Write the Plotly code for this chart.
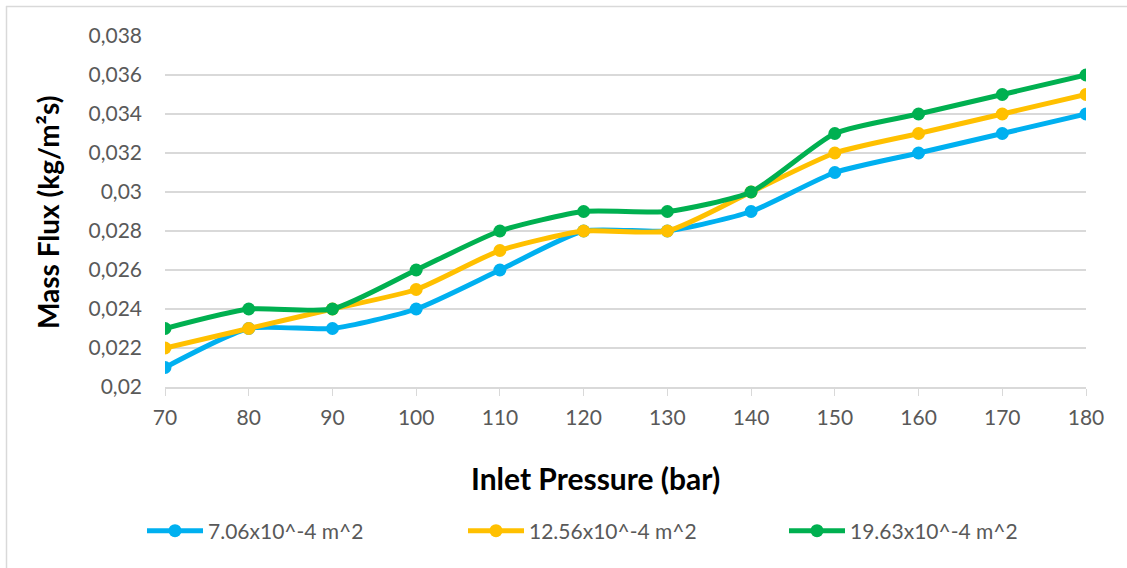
import plotly.graph_objects as go

pressure = [70, 80, 90, 100, 110, 120, 130, 140, 150, 160, 170, 180]
flux_706 = [0.021, 0.023, 0.023, 0.024, 0.026, 0.028, 0.028, 0.029, 0.031, 0.032, 0.033, 0.034]
flux_1256 = [0.022, 0.023, 0.024, 0.025, 0.027, 0.028, 0.028, 0.030, 0.032, 0.033, 0.034, 0.035]
flux_1963 = [0.023, 0.024, 0.024, 0.026, 0.028, 0.029, 0.029, 0.030, 0.033, 0.034, 0.035, 0.036]
series_names = ["7.06x10^-4 m^2", "12.56x10^-4 m^2", "19.63x10^-4 m^2"]
colors = ["#00B0F0", "#FFC000", "#00B050"]
y_ticks = [0.02, 0.022, 0.024, 0.026, 0.028, 0.03, 0.032, 0.034, 0.036, 0.038]
y_ticktext = ["0,02", "0,022", "0,024", "0,026", "0,028", "0,03", "0,032", "0,034", "0,036", "0,038"]

FONT = "Lato, 'Open Sans', sans-serif"
fig = go.Figure()
for name, ys, c in zip(series_names, [flux_706, flux_1256, flux_1963], colors):
    fig.add_trace(go.Scatter(
        x=pressure, y=ys, name=name, mode="lines+markers",
        line=dict(color=c, width=5, shape="spline", smoothing=0.6),
        marker=dict(color=c, size=13),
    ))

W, H = 1127, 568
L, R, T, B = 165, 1086, 36, 387
pw, ph = R - L, B - T
def px(x): return (x - L) / pw
def py(y): return (B - y) / ph

fig.update_layout(
    width=W, height=H,
    margin=dict(l=L, r=W - R, t=T, b=H - B),
    paper_bgcolor="white", plot_bgcolor="white",
    font=dict(family=FONT, color="#595959", size=21),
    showlegend=True,
    legend=dict(orientation="h", x=px(142), y=py(531), xanchor="left", yanchor="middle",
                font=dict(size=21, color="#595959"), itemwidth=56, entrywidth=250,
                entrywidthmode="pixels", tracegroupgap=0),
    xaxis=dict(range=[70, 180], tickvals=pressure, ticks="outside", ticklen=7, tickcolor="#D9D9D9",
               showline=True, linecolor="#D9D9D9", linewidth=1.5, showgrid=False, zeroline=False,
               ticklabelstandoff=4, tickfont=dict(size=21, color="#595959")),
    yaxis=dict(range=[0.02, 0.038], tickvals=y_ticks, ticktext=y_ticktext, showgrid=True,
               gridcolor="#D9D9D9", gridwidth=1.5, zeroline=False, showline=False,
               ticks="", ticklabelstandoff=22, tickfont=dict(size=21, color="#595959")),
    annotations=[
        dict(text="<b>Inlet Pressure (bar)</b>", xref="paper", yref="paper", x=px(595), y=py(478),
             showarrow=False, font=dict(size=30, color="black", family=FONT), xanchor="center", yanchor="middle"),
        dict(text="<b>Mass Flux (kg/m²s)</b>", xref="paper", yref="paper", x=px(48), y=py(213),
             showarrow=False, textangle=-90, font=dict(size=28, color="black", family=FONT),
             xanchor="center", yanchor="middle"),
    ],
    shapes=[
        dict(type="line", xref="paper", yref="paper", x0=px(6), x1=px(1127), y0=py(6.5), y1=py(6.5),
             line=dict(color="#D9D9D9", width=1.5)),
        dict(type="line", xref="paper", yref="paper", x0=px(6.5), x1=px(6.5), y0=py(6), y1=py(568),
             line=dict(color="#D9D9D9", width=1.5)),
    ],
)
fig.write_html("out.html")
